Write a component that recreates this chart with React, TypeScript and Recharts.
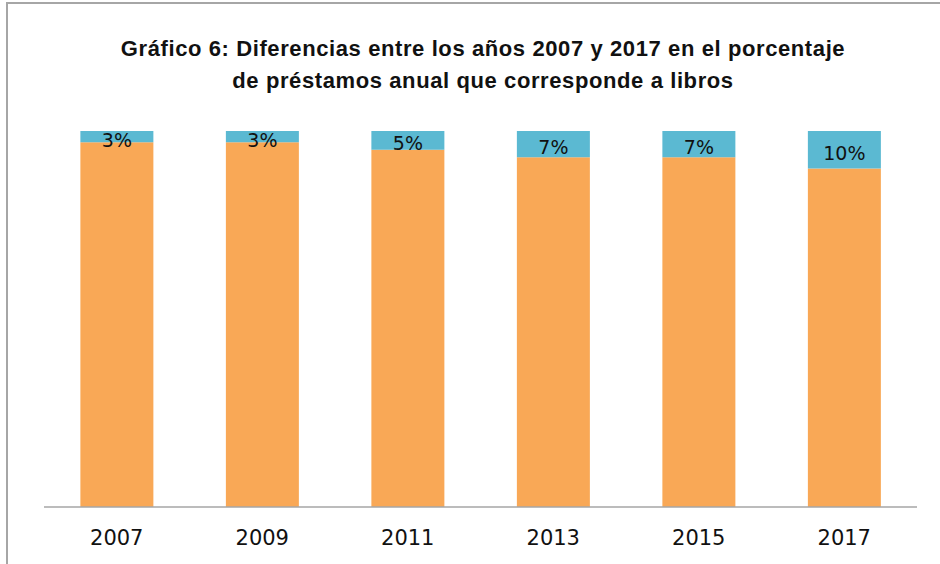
import { BarChart, Bar, XAxis, YAxis, LabelList } from 'recharts';

const years = ['2007', '2009', '2011', '2013', '2015', '2017'];
const otros = [97, 97, 95, 93, 93, 90];
const libros = [3, 3, 5, 7, 7, 10];

const data = years.map((year, i) => ({ year, otros: otros[i], libros: libros[i] }));

const renderLabel = (props: any) => {
  const { x, y, width, height, value } = props;
  return (
    <text
      x={x + width / 2}
      y={y + height / 2 + 3}
      textAnchor="middle"
      dominantBaseline="central"
      fontFamily="DejaVu Sans"
      fontSize={19}
      fill="#111"
    >
      {value}%
    </text>
  );
};

export default function App() {
  return (
    <div style={{ position: 'absolute', left: 0, top: 0, width: 940, height: 564, background: '#fff', overflow: 'hidden' }}>
      <div
        style={{
          position: 'absolute',
          left: 0,
          top: 33,
          width: 966,
          textAlign: 'center',
          fontFamily: 'Liberation Sans',
          fontWeight: 'bold',
          fontSize: 22,
          letterSpacing: 0.6,
          lineHeight: '32px',
          color: '#111',
        }}
      >
        Gráfico 6: Diferencias entre los años 2007 y 2017 en el porcentaje
        <br />
        de préstamos anual que corresponde a libros
      </div>
      <BarChart
        width={940}
        height={564}
        data={data}
        margin={{ top: 131, right: 23, bottom: 27, left: 44 }}
        barCategoryGap="25%"
        style={{ position: 'absolute', left: 0, top: 0 }}
      >
        <YAxis hide domain={[0, 100]} />
        <XAxis
          dataKey="year"
          tickLine={false}
          axisLine={{ stroke: '#a6a6a6', strokeWidth: 1.5 }}
          tick={{ fontFamily: 'DejaVu Sans', fontSize: 21, fill: '#111' }}
          tickMargin={17}
        />
        <Bar dataKey="otros" stackId="a" fill="#F9A856" isAnimationActive={false} />
        <Bar dataKey="libros" stackId="a" fill="#5BB9D2" isAnimationActive={false}>
          <LabelList dataKey="libros" content={renderLabel} />
        </Bar>
      </BarChart>
      <div
        style={{
          position: 'absolute',
          left: 6,
          top: 2,
          width: 960,
          height: 600,
          borderTop: '2px solid #a6a6a6',
          borderLeft: '2px solid #a6a6a6',
          zIndex: 2,
          pointerEvents: 'none',
        }}
      />
    </div>
  );
}
